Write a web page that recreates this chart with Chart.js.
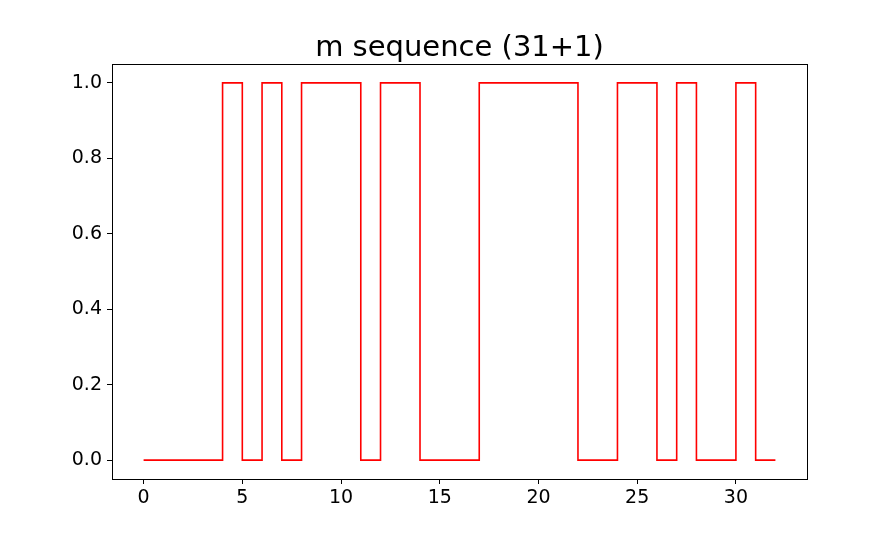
<!DOCTYPE html>
<html>
<head>
<meta charset="utf-8">
<script src="https://cdn.jsdelivr.net/npm/chart.js@4/dist/chart.umd.min.js"></script>
<style>
    html, body { margin: 0; padding: 0; background: #fff; }
    #wrap { width: 896px; height: 538px; }
</style>
</head>
<body>
<div id="wrap"><canvas id="myChart" width="896" height="538"></canvas></div>
<script>
// sample positions and the m sequence value held from each position to the next
const positions = [0, 1, 2, 3, 4, 5, 6, 7, 8, 9, 10, 11, 12, 13, 14, 15, 16,
                   17, 18, 19, 20, 21, 22, 23, 24, 25, 26, 27, 28, 29, 30, 31, 32];
const seqValues = [0, 0, 0, 0, 1, 0, 1, 0, 1, 1, 1, 0, 1, 1, 0, 0, 0,
                   1, 1, 1, 1, 1, 0, 0, 1, 1, 0, 1, 0, 0, 1, 0, 0];
const xTicks = [0, 5, 10, 15, 20, 25, 30];
const yTicks = [0.0, 0.2, 0.4, 0.6, 0.8, 1.0];
const titleText = 'm sequence (31+1)';

const FONT = 'DejaVu Sans';

// title centred over the plot area, plus the four spines
const frameAndTitle = {
    id: 'frameAndTitle',
    afterDatasetsDraw(chart) {
        const { ctx, chartArea: a } = chart;
        ctx.save();
        ctx.strokeStyle = '#000';
        ctx.lineWidth = 1;
        ctx.strokeRect(Math.round(a.left) + 0.5, Math.round(a.top) + 0.5,
            Math.round(a.right - a.left), Math.round(a.bottom - a.top));

        ctx.fillStyle = '#000';
        ctx.font = '29px "' + FONT + '"';
        ctx.textAlign = 'center';
        ctx.textBaseline = 'alphabetic';
        ctx.fillText(titleText, (a.left + a.right) / 2, a.top - 8);
        ctx.restore();
    }
};

const points = positions.map((x, i) => ({ x: x, y: seqValues[i] }));

const ctx = document.getElementById('myChart').getContext('2d');
const myChart = new Chart(ctx, {
    type: 'line',
    data: {
        datasets: [{
            label: 'm sequence',
            data: points,
            stepped: 'before',
            borderColor: '#ff0000',
            borderWidth: 1.6,
            pointRadius: 0,
            fill: false,
        }],
    },
    options: {
        responsive: false,
        animation: false,
        layout: { padding: { left: 0, right: 89, top: 64, bottom: 0 } },
        plugins: {
            legend: { display: false },
            tooltip: { enabled: false },
            title: { display: false },
        },
        scales: {
            x: {
                type: 'linear',
                min: -1.6,
                max: 33.6,
                afterBuildTicks: scale => { scale.ticks = xTicks.map(v => ({ value: v })); },
                afterFit: scale => { scale.height = 59; },
                border: { display: false },
                grid: { drawOnChartArea: false, drawTicks: true, tickLength: 5, color: '#000' },
                ticks: {
                    color: '#000',
                    padding: 3,
                    maxRotation: 0,
                    font: { family: FONT, size: 19 },
                    callback: v => String(v),
                },
            },
            y: {
                type: 'linear',
                min: -0.05,
                max: 1.05,
                afterBuildTicks: scale => { scale.ticks = yTicks.map(v => ({ value: v })); },
                afterFit: scale => { scale.width = 112; },
                border: { display: false },
                grid: { drawOnChartArea: false, drawTicks: true, tickLength: 5, color: '#000' },
                ticks: {
                    color: '#000',
                    padding: 5,
                    font: { family: FONT, size: 19 },
                    callback: v => v.toFixed(1),
                },
            }
        }
    },
    plugins: [frameAndTitle]
});
</script>
</body>
</html>
